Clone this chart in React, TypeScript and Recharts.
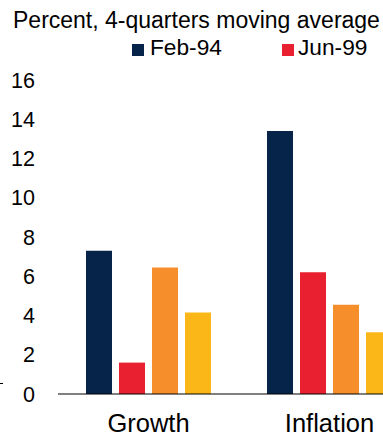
import { BarChart, Bar, XAxis, YAxis } from "recharts";

const categories = ["Growth", "Inflation"];
const feb94 = [7.3, 13.4];
const jun99 = [1.6, 6.2];
const jun04 = [6.45, 4.55];
const dec15 = [4.15, 3.15];
const yTicks = [0, 2, 4, 6, 8, 10, 12, 14, 16];

const data = categories.map((c, i) => ({
  category: c,
  feb94: feb94[i],
  jun99: jun99[i],
  jun04: jun04[i],
  dec15: dec15[i],
}));

const font = "'Liberation Sans', Arial, sans-serif";

export default function App() {
  return (
    <div
      style={{
        position: "absolute",
        left: 0,
        top: 0,
        width: 383,
        height: 433,
        overflow: "hidden",
        background: "#fff",
        fontFamily: font,
      }}
    >
      <div style={{ position: "absolute", left: 13, top: 7, fontSize: 23, lineHeight: "26px", color: "#000", whiteSpace: "nowrap" }}>
        Percent, 4-quarters moving average
      </div>
      <div style={{ position: "absolute", left: 132, top: 44, width: 11.5, height: 11.5, background: "#06234A" }} />
      <div style={{ position: "absolute", left: 150, top: 34, fontSize: 22.7, lineHeight: "26px", whiteSpace: "nowrap" }}>Feb-94</div>
      <div style={{ position: "absolute", left: 282, top: 44, width: 11.5, height: 11.5, background: "#E8202F" }} />
      <div style={{ position: "absolute", left: 298, top: 34, fontSize: 22.7, lineHeight: "26px", whiteSpace: "nowrap" }}>Jun-99</div>
      <div style={{ position: "absolute", left: 0, top: 383, width: 3, height: 1, background: "#000" }} />
      <div style={{ position: "absolute", left: 0, top: 0 }}>
        <BarChart
          width={420}
          height={433}
          data={data}
          margin={{ top: 80, right: 0, bottom: 0, left: 0 }}
          barSize={26}
          barGap={7}
        >
          <XAxis
            dataKey="category"
            height={39}
            axisLine={{ stroke: "#000", strokeWidth: 1 }}
            tickLine={false}
            tickSize={0}
            tickMargin={20}
            tick={{ fill: "#000", fontSize: 25.5, fontFamily: font }}
          />
          <YAxis
            width={58}
            domain={[0, 16]}
            ticks={yTicks}
            axisLine={false}
            tickLine={false}
            tickSize={0}
            tickMargin={23}
            tick={{ fill: "#000", fontSize: 21.5, fontFamily: font }}
          />
          <Bar dataKey="feb94" name="Feb-94" fill="#06234A" isAnimationActive={false} />
          <Bar dataKey="jun99" name="Jun-99" fill="#E8202F" isAnimationActive={false} />
          <Bar dataKey="jun04" name="Jun-04" fill="#F68E2B" isAnimationActive={false} />
          <Bar dataKey="dec15" name="Dec-15" fill="#FBB717" isAnimationActive={false} />
        </BarChart>
      </div>
    </div>
  );
}
